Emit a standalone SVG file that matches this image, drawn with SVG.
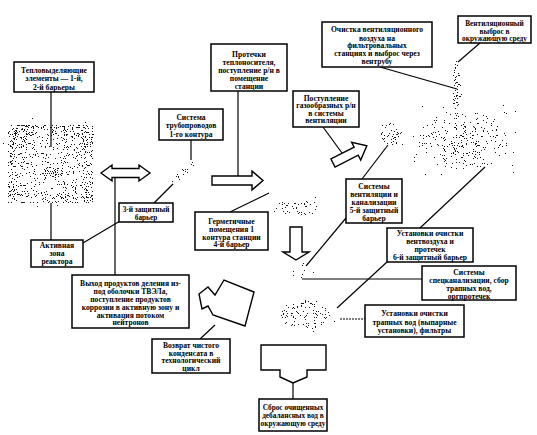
<svg xmlns="http://www.w3.org/2000/svg" width="537" height="435" viewBox="0 0 537 435">
<style>
.box{fill:#fff;stroke:#000;stroke-width:1.5}
.t{font-family:"Liberation Serif","Times New Roman",serif;font-weight:bold;font-size:7.6px;text-anchor:middle;fill:#000}
.t.s{font-size:7.3px}
.ln{stroke:#000;stroke-width:1.2;fill:none}
.arr{fill:#fff;stroke:#000;stroke-width:1.4;stroke-linejoin:miter}
.st{filter:url(#stip)}
</style>
<defs>
<filter id="stip" x="-0.1" y="-0.1" width="1.2" height="1.2" color-interpolation-filters="sRGB">
<feTurbulence type="fractalNoise" baseFrequency="0.9" numOctaves="2" seed="7" result="n"/>
<feColorMatrix in="n" type="matrix" values="0 0 0 0 0 0 0 0 0 0 0 0 0 0 0 1 0 0 0 0" result="na"/>
<feComposite in="na" in2="SourceGraphic" operator="arithmetic" k1="0" k2="1" k3="0.22" k4="0.085" result="s"/>
<feComponentTransfer in="s"><feFuncA type="discrete" tableValues="0 0 0 0 0 0 0 1"/></feComponentTransfer>
</filter>
<radialGradient id="rg" cx="0.5" cy="0.55" r="0.6">
<stop offset="0" stop-color="#000" stop-opacity="0.4"/>
<stop offset="0.55" stop-color="#000" stop-opacity="0.55"/>
<stop offset="1" stop-color="#000" stop-opacity="0.9"/>
</radialGradient>
<radialGradient id="cl" cx="0.5" cy="0.5" r="0.5">
<stop offset="0" stop-color="#000" stop-opacity="0.75"/>
<stop offset="1" stop-color="#000" stop-opacity="0.35"/>
</radialGradient>
</defs>
<rect width="537" height="435" fill="#fff"/>

<g id="stipple">
<rect class="st" x="8" y="125" width="85" height="78" fill="url(#rg)"/>
<ellipse class="st" cx="52" cy="172" rx="11" ry="5" fill="#000"/>
<ellipse class="st" cx="184" cy="172" rx="17" ry="4" transform="rotate(-42 184 172)" fill="#000" fill-opacity="0.85"/>
<ellipse class="st" cx="297" cy="208" rx="22" ry="9" fill="#000" fill-opacity="0.5"/>
<ellipse class="st" cx="392" cy="133" rx="11" ry="13" fill="#000" fill-opacity="0.6"/>
<ellipse class="st" cx="457" cy="90" rx="4" ry="30" fill="#000" fill-opacity="0.7"/>
<ellipse class="st" cx="463" cy="140" rx="45" ry="30" fill="url(#cl)"/>
<ellipse class="st" cx="300" cy="272" rx="14" ry="7" fill="#000" fill-opacity="0.4"/>
<ellipse class="st" cx="305" cy="315" rx="25" ry="15" fill="#000" fill-opacity="0.55"/>
</g>

<g id="connectors">
<line class="ln" x1="51" y1="92" x2="51" y2="147"/>
<line class="ln" x1="51" y1="203" x2="51" y2="240"/>
<line class="ln" x1="83" y1="243" x2="120" y2="221"/>
<line class="ln" x1="115" y1="177.5" x2="115" y2="275"/>
<line class="ln" x1="191" y1="140" x2="191" y2="160"/>
<line class="ln" x1="173" y1="184" x2="154" y2="203"/>
<line class="ln" x1="238" y1="91" x2="238" y2="176"/>
<line class="ln" x1="269" y1="193" x2="230" y2="212"/>
<line class="ln" x1="323" y1="127" x2="342" y2="153"/>
<line class="ln" x1="380" y1="67" x2="457" y2="89"/>
<line class="ln" x1="480" y1="43" x2="458" y2="62"/>
<line class="ln" x1="388" y1="145" x2="362" y2="179"/>
<line class="ln" x1="346" y1="218" x2="306" y2="266"/>
<line class="ln" x1="485" y1="167" x2="420" y2="228"/>
<line class="ln" x1="387" y1="262" x2="337" y2="308"/>
<line class="ln" x1="302" y1="279" x2="422" y2="279"/>
<line class="ln" x1="340" y1="319" x2="365" y2="319" stroke-dasharray="2 1"/>
<line class="ln" x1="215" y1="325" x2="200" y2="339"/>
<line class="ln" x1="293" y1="383" x2="293" y2="399"/>
<polygon class="arr" points="101,173 112,165 112,168.5 139,168.5 139,165 150,173 139,181 139,177.5 112,177.5 112,181"/>
<polygon class="arr" points="212,176 252,176 252,171 263,180.5 252,190 252,185 212,185"/>
<polygon class="arr" points="290,227 302,227 302,252 309,252 296,260 283,252 290,252"/>
<polygon class="arr" points="0,-4.5 26,-4.5 26,-10 38,0 26,10 26,4.5 0,4.5" transform="translate(333 163) rotate(-27)"/>
<polygon class="arr" points="199,294 208,287 215,295 224,280 254,292 245,326 213,315 208,306 202,309"/>
<polygon class="arr" points="261,345 326,345 326,370 307,370 307,377 293,383 280,377 280,370 261,370"/>
</g>

<g id="n1"><rect class="box" x="14" y="62" width="80" height="30"/>
<text class="t" x="54" y="72.5">Тепловыделяющие</text><text class="t" x="54" y="81">элементы — 1-й,</text><text class="t" x="54" y="89.5">2-й барьеры</text></g>

<g id="n2"><rect class="box" x="159" y="109" width="64" height="31"/>
<text class="t" x="191" y="119.5">Система</text><text class="t" x="191" y="128">трубопроводов</text><text class="t" x="191" y="136.5">1-го контура</text></g>

<g id="n3"><rect class="box" x="211" y="44" width="76" height="47"/>
<text class="t" x="249" y="57">Протечки</text><text class="t" x="249" y="65">теплоносителя,</text><text class="t" x="249" y="73">поступление р/н в</text><text class="t" x="249" y="81">помещение</text><text class="t" x="249" y="89">станции</text></g>

<g id="n4"><rect class="box" x="322" y="22" width="110" height="45"/>
<text class="t" x="377" y="32">Очистка вентиляционного</text><text class="t" x="377" y="40.5">воздуха на</text><text class="t" x="377" y="48">фильтровальных</text><text class="t" x="377" y="56">станциях и выброс через</text><text class="t" x="377" y="64">вентрубу</text></g>

<g id="n5"><rect class="box" x="458" y="16" width="73" height="27"/>
<text class="t s" x="494.5" y="25.5">Вентиляционный</text><text class="t s" x="494.5" y="33.5">выброс в</text><text class="t s" x="494.5" y="41">окружающую среду</text></g>

<g id="n6"><rect class="box" x="293" y="91" width="66" height="36"/>
<text class="t" x="326" y="100.5">Поступление</text><text class="t" x="326" y="108">газообразных р/н</text><text class="t" x="326" y="115.5">в системы</text><text class="t" x="326" y="123">вентиляции</text></g>

<g id="n7"><rect class="box" x="119" y="203" width="54" height="19"/>
<text class="t s" x="146" y="211.5">3-й защитный</text><text class="t s" x="146" y="219.5">барьер</text></g>

<g id="n8"><rect class="box" x="31" y="240" width="52" height="27"/>
<text class="t" x="57" y="248">Активная</text><text class="t" x="57" y="256">зона</text><text class="t" x="57" y="264">реактора</text></g>

<g id="n9"><rect class="box" x="72" y="275" width="117" height="53"/>
<text class="t" x="130.5" y="285.5">Выход продуктов деления из-</text><text class="t" x="130.5" y="293.5">под оболочки ТВЭЛа,</text><text class="t" x="130.5" y="301.5">поступление продуктов</text><text class="t" x="130.5" y="309.5">коррозии в активную зону и</text><text class="t" x="130.5" y="317.5">активация потоком</text><text class="t" x="130.5" y="325">нейтронов</text></g>

<g id="n10"><rect class="box" x="195" y="212" width="73" height="38"/>
<text class="t" x="231.5" y="223.5">Герметичные</text><text class="t" x="231.5" y="231.5">помещения 1</text><text class="t" x="231.5" y="239.5">контура станции</text><text class="t" x="231.5" y="247">4-й барьер</text></g>

<g id="n11"><rect class="box" x="346" y="179" width="56" height="44"/>
<text class="t" x="374" y="189">Системы</text><text class="t" x="374" y="197">вентиляции и</text><text class="t" x="374" y="205">канализации</text><text class="t" x="374" y="213">5-й защитный</text><text class="t" x="374" y="221">барьер</text></g>

<g id="n12"><rect class="box" x="387" y="228" width="86" height="34"/>
<text class="t" x="430" y="236">Установки очистки</text><text class="t" x="430" y="244">вентвоздуха и</text><text class="t" x="430" y="252">протечек</text><text class="t" x="430" y="260">6-й защитный барьер</text></g>

<g id="n13"><rect class="box" x="422" y="266" width="94" height="34"/>
<text class="t" x="469" y="274.5">Системы</text><text class="t" x="469" y="282.5">спецканализации, сбор</text><text class="t" x="469" y="291">трапных вод,</text><text class="t" x="469" y="298.5">оргпротечек</text></g>

<g id="n14"><rect class="box" x="365" y="305" width="99" height="32"/>
<text class="t" x="414.5" y="316">Установки очистки</text><text class="t" x="414.5" y="325">трапных вод (выпарные</text><text class="t" x="414.5" y="333">установки), фильтры</text></g>

<g id="n15"><rect class="box" x="152" y="339" width="78" height="34"/>
<text class="t" x="191" y="348">Возврат чистого</text><text class="t" x="191" y="355.5">конденсата в</text><text class="t" x="191" y="363">технологический</text><text class="t" x="191" y="370.5">цикл</text></g>

<g id="n16"><rect class="box" x="259" y="399" width="68" height="32"/>
<text class="t s" x="293" y="409.5">Сброс очищенных</text><text class="t s" x="293" y="418">дебалансных вод в</text><text class="t s" x="293" y="426">окружающую среду</text></g>
</svg>
